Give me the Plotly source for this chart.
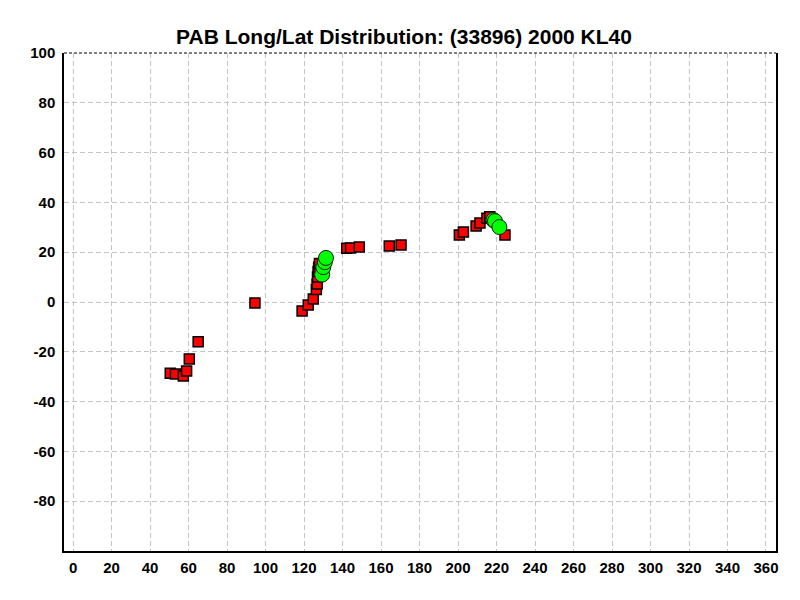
import plotly.graph_objects as go

# Red squares (longitude, latitude)
red_lon = [50.5, 53.2, 57.3, 59.0, 60.4, 65.0, 94.5,
           119.0, 122.2, 124.8, 126.4, 126.8, 127.0, 127.3, 127.6, 128.0,
           142.2, 144.2, 148.7, 164.3, 170.4,
           200.7, 202.8, 209.4, 211.4, 215.0, 216.5, 224.4]
red_lat = [-28.6, -28.9, -29.7, -27.7, -22.9, -16.0, -0.4,
           -3.6, -1.2, 1.2, 5.0, 7.2, 10.0, 12.2, 14.0, 15.5,
           21.6, 21.7, 22.1, 22.5, 22.9,
           26.9, 28.1, 30.5, 31.7, 33.6, 34.2, 26.9]

# Green circles
green_lon = [129.4, 130.0, 130.8, 131.4, 218.4, 219.2, 221.5]
green_lat = [11.0, 14.0, 16.0, 17.7, 32.9, 32.5, 30.1]

x_ticks = list(range(0, 361, 20))
y_ticks = list(range(-80, 101, 20))

fig = go.Figure()
fig.add_trace(go.Scatter(
    x=red_lon, y=red_lat, mode="markers",
    marker=dict(symbol="square", size=10, color="#FF0000",
                line=dict(color="black", width=1.5)),
    showlegend=False))
fig.add_trace(go.Scatter(
    x=green_lon, y=green_lat, mode="markers",
    marker=dict(symbol="circle", size=15, color="#00FF00",
                line=dict(color="#1a1a1a", width=1)),
    showlegend=False))

fig.update_layout(
    width=792, height=592,
    paper_bgcolor="white", plot_bgcolor="white",
    margin=dict(l=56, r=24, t=45, b=49, autoexpand=False),
    title=dict(text="<b>PAB Long/Lat Distribution: (33896) 2000 KL40</b>",
               x=0.5, xanchor="center", y=0.951, yanchor="middle",
               font=dict(family="Liberation Sans, Arial", size=21, color="black")),
    font=dict(family="Liberation Sans, Arial", color="black"),
)
fig.update_xaxes(
    range=[-4.7, 365.2], tickvals=x_ticks, ticktext=[f"<b>{v}</b>" for v in x_ticks],
    tickfont=dict(size=15, color="black"), automargin=False,
    showgrid=True, gridcolor="#c4c4c4", griddash="5px,3px", gridwidth=1,
    showline=True, linecolor="black", linewidth=1.5, mirror=False,
    zeroline=False, ticks="", ticklabelstandoff=2)
fig.update_yaxes(
    range=[-100, 100], tickvals=y_ticks, ticktext=[f"<b>{v}</b>" for v in y_ticks],
    tickfont=dict(size=15, color="black"), automargin=False,
    showgrid=True, gridcolor="#c4c4c4", griddash="5px,3px", gridwidth=1,
    showline=True, linecolor="black", linewidth=1.5, mirror=True,
    zeroline=False, ticks="", ticklabelstandoff=4)

# top border drawn as a dashed black line
fig.add_shape(type="line", xref="paper", yref="paper", x0=0, x1=1, y0=1, y1=1,
              line=dict(color="black", width=1, dash="3px,2px"))

fig.write_html("out.html")
